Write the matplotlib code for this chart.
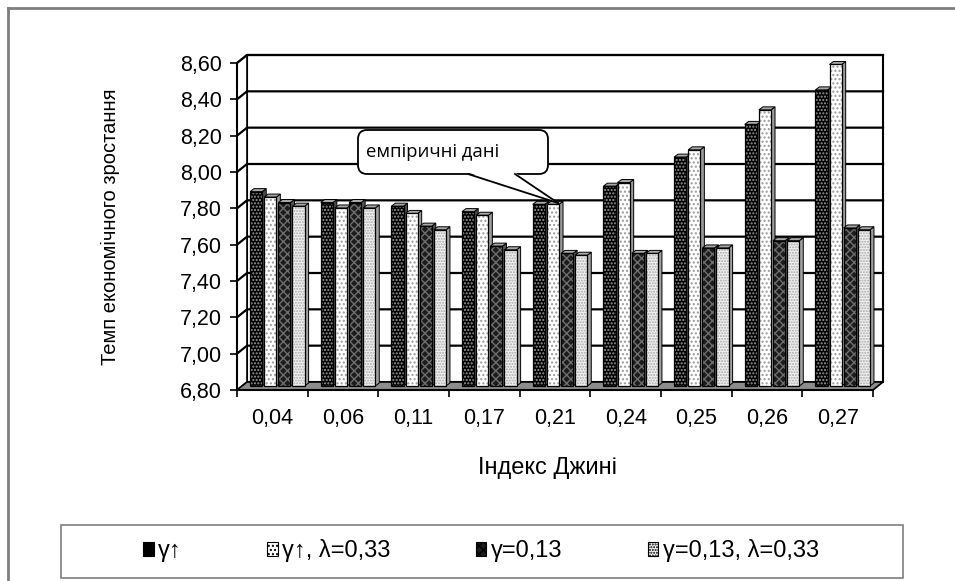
import matplotlib
matplotlib.use("Agg")
import matplotlib.pyplot as plt
from matplotlib.patches import Rectangle, Polygon, FancyBboxPatch, Patch
from matplotlib.lines import Line2D
from matplotlib.ticker import FuncFormatter, FixedLocator

plt.rcParams["font.family"] = ["Liberation Sans", "DejaVu Sans"]
plt.rcParams["hatch.linewidth"] = 1.0

# data
categories = ["0,04", "0,06", "0,11", "0,17", "0,21", "0,24", "0,25", "0,26", "0,27"]
s_gamma = [7.87, 7.81, 7.79, 7.76, 7.80, 7.90, 8.06, 8.24, 8.43]
s_gamma_lam = [7.84, 7.78, 7.75, 7.74, 7.80, 7.92, 8.10, 8.32, 8.57]
s_g013 = [7.81, 7.81, 7.68, 7.57, 7.53, 7.53, 7.56, 7.60, 7.67]
s_g013_lam = [7.79, 7.78, 7.66, 7.55, 7.52, 7.53, 7.56, 7.60, 7.66]
series_labels = ["γ↑", "γ↑, λ=0,33", "γ=0,13", "γ=0,13, λ=0,33"]
y_ticks = [6.8, 7.0, 7.2, 7.4, 7.6, 7.8, 8.0, 8.2, 8.4, 8.6]

# face colour, hatch, hatch colour, side colour
styles = [
    ("#000000", ".....", "#9a9a9a", "#4a4a4a"),
    ("#ffffff", "....", "#9a9a9a", "#9a9a9a"),
    ("#1c1c1c", "xxxx", "#6e6e6e", "#555555"),
    ("#f2f2f2", "......", "#a8a8a8", "#a0a0a0"),
]

W, H = 955, 581
fig = plt.figure(figsize=(W / 100, H / 100), dpi=100)

# axes = front frame of the 3d-ish plot
ax_l, ax_r, ax_b, ax_t = 237, 873, 390, 63
ax = fig.add_axes([ax_l / W, (H - ax_b) / H, (ax_r - ax_l) / W, (ax_b - ax_t) / H])
n = len(categories)
ax.set_xlim(-0.5, n - 0.5)
ax.set_ylim(6.8, 8.6)
ax.patch.set_alpha(0)

pxx = n / (ax_r - ax_l)            # data units per pixel, x
pxy = 1.8 / (ax_b - ax_t)          # data units per pixel, y
bx, by = 10 * pxx, 8 * pxy         # back wall offset
sx, sy = 5 * pxx, 4 * pxy          # bars sit half way back
dx, dy = 4 * pxx, 3 * pxy          # bar depth

x0, x1, y0, y1 = -0.5, n - 0.5, 6.8, 8.6
kw = dict(clip_on=False)
# back wall, left wall, floor
ax.add_patch(Rectangle((x0 + bx, y0 + by), x1 - x0, y1 - y0, fc="white", ec="black", lw=1.5, zorder=1, **kw))
ax.add_patch(Polygon([(x0, y0), (x0 + bx, y0 + by), (x0 + bx, y1 + by), (x0, y1)], fc="white", ec="black", lw=1.2, zorder=1, **kw))
ax.add_patch(Polygon([(x0, y0), (x1, y0), (x1 + bx, y0 + by), (x0 + bx, y0 + by)], fc="#8c8c8c", ec="black", lw=1.2, zorder=1.5, **kw))
for v in y_ticks[1:]:
    ax.plot([x0, x0 + bx, x1 + bx], [v, v + by, v + by], color="black", lw=1.6, zorder=1.2, **kw)

# bars
pitch, bw = 0.2, 0.172
all_series = [s_gamma, s_gamma_lam, s_g013, s_g013_lam]
for j in range(n):
    for i, vals in enumerate(all_series):
        fc, hatch, hc, side = styles[i]
        left = j + (i - 1.5) * pitch - bw / 2 + sx
        bot = y0 + sy
        top = vals[j] + sy
        z = 3 + j * 0.1 + i * 0.01
        ax.add_patch(Polygon([(left + bw, bot), (left + bw + dx, bot + dy), (left + bw + dx, top + dy), (left + bw, top)],
                             fc=side, ec="black", lw=0.7, zorder=z, **kw))
        ax.add_patch(Polygon([(left, top), (left + bw, top), (left + bw + dx, top + dy), (left + dx, top + dy)],
                             fc="#a8a8a8", ec="black", lw=0.7, zorder=z, **kw))
        ax.add_patch(Rectangle((left, bot), bw, top - bot, fc=fc, hatch=hatch, ec=hc, lw=0, zorder=z + 0.001, **kw))
        ax.add_patch(Rectangle((left, bot), bw, top - bot, fill=False, ec="black", lw=0.9, zorder=z + 0.002, **kw))

# axes decoration
for s in ["top", "right"]:
    ax.spines[s].set_visible(False)
for s in ["left", "bottom"]:
    ax.spines[s].set_linewidth(1.5)
    ax.spines[s].set_zorder(2)
ax.set_yticks(y_ticks)
ax.yaxis.set_major_formatter(FuncFormatter(lambda v, p: f"{v:.2f}".replace(".", ",")))
ax.tick_params(axis="y", direction="out", length=5, width=1.2, pad=6, labelsize=15.5)
ax.set_xticks(range(n))
ax.set_xticklabels(categories)
ax.xaxis.set_minor_locator(FixedLocator([k - 0.5 for k in range(n + 1)]))
ax.tick_params(axis="x", which="major", length=0, pad=13, labelsize=15.5)
ax.tick_params(axis="x", which="minor", direction="out", length=5, width=1.2)

ax.set_ylabel("Темп економічного зростання", fontsize=14.5)
ax.yaxis.set_label_coords((120 - ax_l) / (ax_r - ax_l), 0.5)
fig.text(547 / W, 1 - 468 / H, "Індекс Джині", fontsize=17, ha="center", va="center")

# callout
def px(x, y):
    return (x, H - y)

bl, br, bt, bb = 358, 548, 130, 174
box = FancyBboxPatch(px(bl, bb), br - bl, bb - bt, boxstyle="round,pad=0,rounding_size=9",
                     transform=None, fc="white", ec="black", lw=1.3, zorder=10)
fig.add_artist(box)
tip = px(558, 203)
tail = Polygon([px(468, bb - 1.5), px(515, bb - 1.5), tip], closed=True, transform=None,
               fc="white", ec="none", zorder=11)
fig.add_artist(tail)
for bxp in (468, 515):
    a = px(bxp, bb)
    fig.add_artist(Line2D([a[0], tip[0]], [a[1], tip[1]], transform=None, color="black", lw=1.3, zorder=12))
fig.text(366 / W, 1 - 152 / H, "емпіричні дані", family=["Open Sans", "DejaVu Sans"], fontsize=13.3,
         ha="left", va="center", zorder=13)

# legend
fig.add_artist(Rectangle((61 / W, 1 - 578 / H), (903 - 61) / W, (578 - 525) / H, transform=fig.transFigure,
                         fill=False, ec="#7f7f7f", lw=1.2))
handles = [Patch(fc=st[0], hatch=st[1], ec="black", lw=0.8) for st in styles]
fig.legend(handles, series_labels, ncol=4, loc="center left", bbox_to_anchor=(143 / W, 1 - 551 / H),
           frameon=False, fontsize=17, handlelength=0.45, handleheight=0.55, handletextpad=0.2,
           columnspacing=3.6, borderpad=0, borderaxespad=0)

# outer border (top and left only visible)
fig.add_artist(Line2D([8 / W, 1], [1 - 8 / H, 1 - 8 / H], transform=fig.transFigure, color="#7f7f7f", lw=2))
fig.add_artist(Line2D([8 / W, 8 / W], [0, 1 - 8 / H], transform=fig.transFigure, color="#7f7f7f", lw=2))

fig.savefig("out.png", dpi=100)
